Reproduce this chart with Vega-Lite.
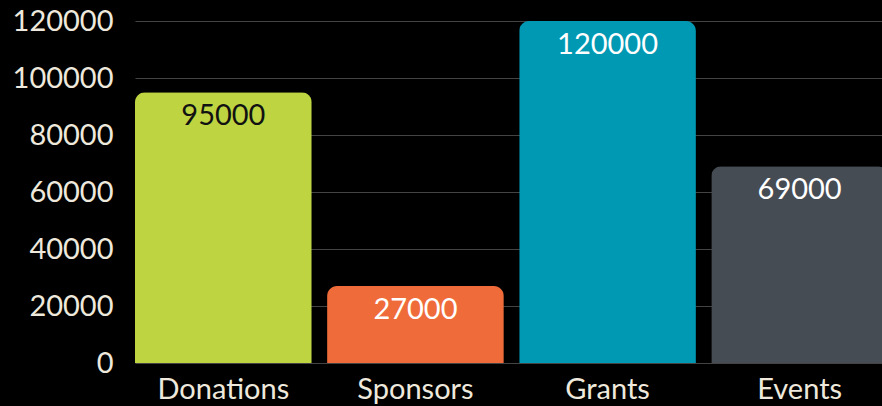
{
  "$schema": "https://vega.github.io/schema/vega-lite/v6.json",
  "autosize": {"type": "none"},
  "padding": {"left": 135, "top": 21, "right": 0, "bottom": 43},
  "width": 753,
  "height": 342,
  "background": "#000000",
  "config": {
    "view": {"stroke": null},
    "font": "Lato"
  },
  "data": {
    "values": [
      {"source": "Donations", "amount": 95000, "color": "#BED541", "textColor": "#111111"},
      {"source": "Sponsors", "amount": 27000, "color": "#EF6C3A", "textColor": "#FFFFFF"},
      {"source": "Grants", "amount": 120000, "color": "#0099B4", "textColor": "#FFFFFF"},
      {"source": "Events", "amount": 69000, "color": "#464C54", "textColor": "#FFFFFF"}
    ]
  },
  "encoding": {
    "x": {
      "field": "source", "type": "nominal", "sort": null,
      "scale": {"paddingInner": 0.08, "paddingOuter": 0},
      "axis": {"title": null, "labelAngle": 0, "labelFontSize": 29, "labelColor": "#EEE9DC", "labelPadding": 12, "ticks": false, "domain": false, "labelFont": "Lato"}
    },
    "y": {
      "field": "amount", "type": "quantitative",
      "scale": {"domain": [0, 120000], "nice": false},
      "axis": {"title": null, "values": [0, 20000, 40000, 60000, 80000, 100000, 120000], "format": "d", "labelFontSize": 29, "labelColor": "#EEE9DC", "labelPadding": 22, "ticks": false, "domain": false, "gridColor": "#444444", "gridWidth": 1, "labelFont": "Lato"}
    }
  },
  "layer": [
    {
      "mark": {"type": "bar", "cornerRadiusTopLeft": 10, "cornerRadiusTopRight": 10},
      "encoding": {"color": {"field": "color", "type": "nominal", "scale": null, "legend": null}}
    },
    {
      "mark": {"type": "text", "baseline": "top", "dy": 10, "fontSize": 29, "font": "Lato"},
      "encoding": {
        "text": {"field": "amount", "type": "quantitative", "format": "d"},
        "color": {"field": "textColor", "type": "nominal", "scale": null, "legend": null}
      }
    }
  ]
}
